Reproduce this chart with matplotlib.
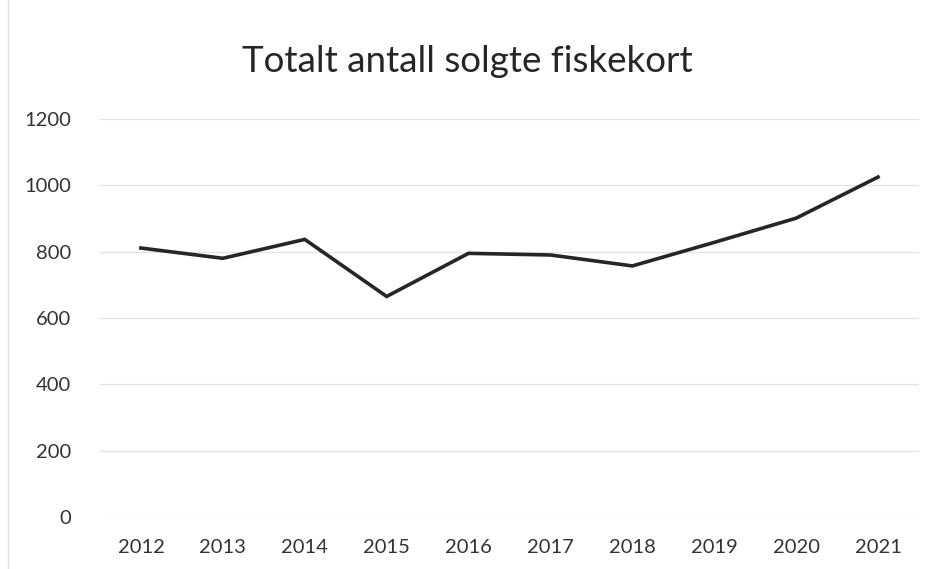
import matplotlib.pyplot as plt
from matplotlib.lines import Line2D

years = ["2012", "2013", "2014", "2015", "2016", "2017", "2018", "2019", "2020", "2021"]
sold = [811, 780, 837, 665, 795, 790, 757, 828, 901, 1025]
y_ticks = [0, 200, 400, 600, 800, 1000, 1200]

plt.rcParams["font.family"] = ["Lato", "DejaVu Sans"]

fig = plt.figure(figsize=(9.39, 5.69), dpi=100)
ax = fig.add_axes([100 / 939, 52 / 569, 819 / 939, 398 / 569])

x = range(len(years))
ax.plot(x, sold, color="#262626", linewidth=2.6, solid_joinstyle="miter")

ax.set_xlim(-0.5, len(years) - 0.5)
ax.set_ylim(0, 1200)
ax.set_yticks(y_ticks)
ax.set_xticks(list(x))
ax.set_xticklabels(years)
ax.grid(axis="y", color="#e2e2e2", linewidth=0.9)
ax.set_axisbelow(True)
for side in ["top", "right", "left", "bottom"]:
    ax.spines[side].set_visible(False)
ax.tick_params(axis="both", length=0, labelsize=14.5, colors="#333333")
ax.tick_params(axis="y", pad=21)
ax.tick_params(axis="x", pad=16)

fig.text(467 / 939, 1 - 62 / 569, "Totalt antall solgte fiskekort",
         ha="center", va="center", fontsize=26.5, color="#262626")

# faint chart border on the left edge
fig.add_artist(Line2D([8 / 939, 8 / 939], [0, 1], color="#e0e0e0", linewidth=1))

fig.savefig("out.png", dpi=100)
